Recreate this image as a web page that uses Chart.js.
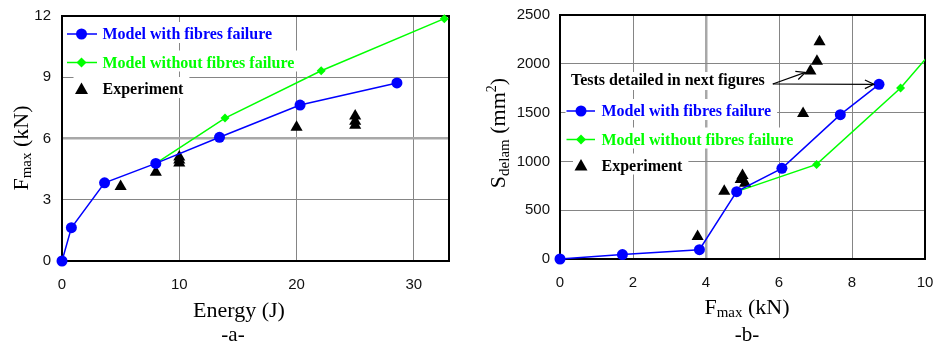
<!DOCTYPE html>
<html>
<head>
<meta charset="utf-8">
<script src="https://cdn.jsdelivr.net/npm/chart.js@4/dist/chart.umd.min.js"></script>
<style>
  html, body { margin: 0; padding: 0; background: #fff; overflow: hidden; }
  #wrap { position: relative; width: 934px; height: 343px; overflow: hidden; }
  canvas { position: absolute; top: 0; }
  #cA { left: 0; }
  #cB { left: 467px; }
</style>
</head>
<body>
<div id="wrap">
  <canvas id="cA" width="467" height="343"></canvas>
  <canvas id="cB" width="467" height="343"></canvas>
</div>
<script>
// ---------- Panel (a): Fmax vs Energy ----------
const energyWith    = [0, 0.8, 3.63, 8.0, 13.43, 20.3, 28.56];
const fmaxWith      = [0, 1.63, 3.83, 4.78, 6.06, 7.64, 8.72];
const energyWithout = [8.0, 13.9, 22.1, 32.6];
const fmaxWithout   = [4.78, 7.0, 9.32, 11.87];
const energyExp     = [5, 8, 10, 10, 10, 20, 25, 25, 25];
const fmaxExp       = [3.65, 4.35, 4.8, 4.95, 5.1, 6.55, 6.65, 6.85, 7.1];
const ticksEnergy   = [0, 10, 20, 30];
const ticksFmaxA    = [0, 3, 6, 9, 12];

// ---------- Panel (b): Sdelam vs Fmax ----------
const fmaxWithB     = [0, 1.71, 3.82, 4.84, 6.08, 7.68, 8.74];
const sdelamWith    = [0, 45, 95, 690, 929, 1479, 1790];
const fmaxWithoutB  = [4.84, 7.03, 9.33, 11.87];
const sdelamWithout = [690, 969, 1752, 2852];
const fmaxExpB      = [3.77, 4.5, 4.95, 5.0, 5.07, 6.66, 6.86, 7.04, 7.11];
const sdelamExp     = [230, 695, 815, 855, 775, 1490, 1925, 2025, 2225];
const ticksFmaxB    = [0, 2, 4, 6, 8, 10];
const ticksSdelam   = [0, 500, 1000, 1500, 2000, 2500];
const arrowTargetF  = [6.72, 8.6];
const arrowTargetS  = [1912, 1790];

const labelWith = 'Model with fibres failure';
const labelWithout = 'Model without fibres failure';
const labelExp = 'Experiment';
const noteText = 'Tests detailed in next figures';

const BLUE = '#0000ff', GREEN = '#00ff00', BLACK = '#000000';
const SERIF = '"Liberation Serif", "Times New Roman", serif';
const SANS = '"Liberation Sans", Arial, sans-serif';

function pts(xs, ys) { return xs.map((x, i) => ({ x: x, y: ys[i] })); }

function richText(ctx, parts, x, y, rot) {
  ctx.save();
  ctx.translate(x, y);
  if (rot) ctx.rotate(-Math.PI / 2);
  ctx.textBaseline = 'alphabetic';
  ctx.textAlign = 'left';
  ctx.fillStyle = '#000';
  let total = 0;
  parts.forEach(p => { ctx.font = p.size + 'px ' + SERIF; p.w = ctx.measureText(p.t).width; total += p.w; });
  let cx = -total / 2;
  parts.forEach(p => { ctx.font = p.size + 'px ' + SERIF; ctx.fillText(p.t, cx, p.dy || 0); cx += p.w; });
  ctx.restore();
}

function drawMarker(ctx, kind, x, y) {
  ctx.save();
  ctx.fillStyle = kind === 'circle' ? BLUE : (kind === 'diamond' ? GREEN : BLACK);
  ctx.beginPath();
  if (kind === 'circle') {
    ctx.arc(x, y, 5.5, 0, Math.PI * 2);
  } else if (kind === 'diamond') {
    const r = 5;
    ctx.moveTo(x, y - r); ctx.lineTo(x + r, y); ctx.lineTo(x, y + r); ctx.lineTo(x - r, y);
  } else {
    ctx.moveTo(x, y - 6.5); ctx.lineTo(x + 6.5, y + 5); ctx.lineTo(x - 6.5, y + 5);
  }
  ctx.closePath();
  ctx.fill();
  ctx.restore();
}

// In-plot legend with white boxes behind each entry
function legendPlugin(cfg) {
  return {
    id: 'customLegend',
    beforeDatasetsDraw(chart) {
      const ctx = chart.ctx, a = chart.chartArea;
      const rows = [
        { kind: 'circle', color: BLUE, text: labelWith, line: true },
        { kind: 'diamond', color: GREEN, text: labelWithout, line: true },
        { kind: 'triangle', color: BLACK, text: labelExp, line: false }
      ];
      ctx.save();
      ctx.font = 'bold 16px ' + SERIF;
      rows.forEach((r, i) => {
        const y = a.top + cfg.rowY[i];
        const tx = a.left + cfg.textX;
        const w = ctx.measureText(r.text).width;
        ctx.fillStyle = '#fff';
        const bx = r.line ? a.left + cfg.lineX0 - 1 : a.left + cfg.markX - 8;
        ctx.fillRect(bx, y - 12, tx + w + 6 - bx, 21);
        if (r.line) {
          ctx.strokeStyle = r.color; ctx.lineWidth = 1.5;
          ctx.beginPath();
          ctx.moveTo(a.left + cfg.lineX0, y); ctx.lineTo(a.left + cfg.lineX1, y);
          ctx.stroke();
        }
        drawMarker(ctx, r.kind, a.left + cfg.markX, y);
        ctx.fillStyle = r.color;
        ctx.textBaseline = 'middle';
        ctx.textAlign = 'left';
        ctx.fillText(r.text, tx, y + 1);
      });
      // frame (top & right edges as well)
      ctx.strokeStyle = '#000'; ctx.lineWidth = 2;
      ctx.strokeRect(a.left, a.top, a.right - a.left, a.bottom - a.top);
      ctx.restore();
    }
  };
}

function titlesPlugin(draw) {
  return { id: 'titles', afterDraw(chart) { draw(chart.ctx, chart); } };
}

function scaleCfg(min, max, ticks, size, pad, thick, isX) {
  return {
    type: 'linear', min: min, max: max,
    afterBuildTicks: s => { s.ticks = ticks.map(v => ({ value: v })); },
    afterFit: s => {
      if (isX) { s.height = size; s.paddingLeft = 0; s.paddingRight = 0; }
      else { s.width = size; s.paddingTop = 0; s.paddingBottom = 0; }
    },
    grid: {
      drawTicks: false,
      color: c => (c.tick && c.tick.value === thick) ? '#a8a8a8' : '#858585',
      lineWidth: c => (c.tick && c.tick.value === thick) ? 2.5 : 1
    },
    border: { display: true, color: '#000', width: 2 },
    ticks: { font: { family: SANS, size: 15 }, color: '#111', padding: pad, maxRotation: 0, autoSkip: false,
             callback: v => String(v) }
  };
}

// ---------- Chart A ----------
new Chart(document.getElementById('cA'), {
  type: 'scatter',
  data: {
    datasets: [
      { label: labelWith, data: pts(energyWith, fmaxWith), showLine: true, borderColor: BLUE, backgroundColor: BLUE,
        borderWidth: 1.5, pointRadius: 5.5, pointBorderWidth: 0, pointStyle: 'circle', clip: false },
      { label: labelExp, data: pts(energyExp, fmaxExp), showLine: false, borderColor: BLACK, backgroundColor: BLACK,
        pointRadius: 7, pointBorderWidth: 0, pointStyle: 'triangle', clip: false },
      { label: labelWithout, data: pts(energyWithout, fmaxWithout), showLine: true, borderColor: GREEN, backgroundColor: GREEN,
        borderWidth: 1.5, pointRadius: 4.5, pointBorderWidth: 0, pointStyle: 'rectRot', clip: false }
    ]
  },
  options: {
    responsive: false, animation: false, devicePixelRatio: 1,
    layout: { padding: { top: 16, right: 18, left: 0, bottom: 0 } },
    plugins: { legend: { display: false }, tooltip: { enabled: false } },
    scales: {
      x: scaleCfg(0, 33, ticksEnergy, 82, 15, -1, true),
      y: scaleCfg(0, 12, ticksFmaxA, 62, 11, 6, false)
    }
  },
  plugins: [
    legendPlugin({ rowY: [18, 46.5, 73], lineX0: 5, lineX1: 35, markX: 19.5, textX: 40.5 }),
    titlesPlugin((ctx, chart) => {
      richText(ctx, [{ t: 'Energy (J)', size: 22 }], 239, 317, false);
      richText(ctx, [{ t: '-a-', size: 21 }], 233, 341, false);
      richText(ctx, [{ t: 'F', size: 22 }, { t: 'max', size: 15, dy: 3 }, { t: ' (kN)', size: 22 }], 28, 148, true);
    })
  ]
});

// ---------- Chart B ----------
new Chart(document.getElementById('cB'), {
  type: 'scatter',
  data: {
    datasets: [
      { label: labelWith, data: pts(fmaxWithB, sdelamWith), showLine: true, borderColor: BLUE, backgroundColor: BLUE,
        borderWidth: 1.5, pointRadius: 5.5, pointBorderWidth: 0, pointStyle: 'circle', clip: false },
      { label: labelExp, data: pts(fmaxExpB, sdelamExp), showLine: false, borderColor: BLACK, backgroundColor: BLACK,
        pointRadius: 7, pointBorderWidth: 0, pointStyle: 'triangle', clip: false },
      { label: labelWithout, data: pts(fmaxWithoutB, sdelamWithout), showLine: true, borderColor: GREEN, backgroundColor: GREEN,
        borderWidth: 1.5, pointRadius: 4.5, pointBorderWidth: 0, pointStyle: 'rectRot' }
    ]
  },
  options: {
    responsive: false, animation: false, devicePixelRatio: 1,
    layout: { padding: { top: 15, right: 9, left: 0, bottom: 0 } },
    plugins: { legend: { display: false }, tooltip: { enabled: false } },
    scales: {
      x: scaleCfg(0, 10, ticksFmaxB, 84, 15, 4, true),
      y: scaleCfg(0, 2500, ticksSdelam, 93, 10, -1, false)
    }
  },
  plugins: [
    legendPlugin({ rowY: [96, 124.5, 150.5], lineX0: 6.5, lineX1: 35, markX: 21, textX: 41.5 }),
    {
      id: 'note',
      afterDatasetsDraw(chart) {
        const ctx = chart.ctx, a = chart.chartArea, xs = chart.scales.x, ys = chart.scales.y;
        ctx.save();
        ctx.font = 'bold 16px ' + SERIF;
        const tx = a.left + 11, ty = a.top + 66;
        const w = ctx.measureText(noteText).width;
        ctx.fillStyle = '#fff';
        ctx.fillRect(tx - 3, ty - 9, w + 6, 18);
        ctx.fillStyle = '#000';
        ctx.textBaseline = 'middle'; ctx.textAlign = 'left';
        ctx.fillText(noteText, tx, ty);
        const sx = tx + w + 8, sy = ty + 3;
        ctx.strokeStyle = '#000'; ctx.lineWidth = 1.2;
        arrowTargetF.forEach((f, i) => {
          const ex = xs.getPixelForValue(f), ey = ys.getPixelForValue(arrowTargetS[i]);
          ctx.beginPath(); ctx.moveTo(sx, sy); ctx.lineTo(ex, ey); ctx.stroke();
          const ang = Math.atan2(ey - sy, ex - sx), L = 10;
          ctx.beginPath();
          ctx.moveTo(ex - L * Math.cos(ang - 0.45), ey - L * Math.sin(ang - 0.45));
          ctx.lineTo(ex, ey);
          ctx.lineTo(ex - L * Math.cos(ang + 0.45), ey - L * Math.sin(ang + 0.45));
          ctx.stroke();
        });
        ctx.restore();
      }
    },
    titlesPlugin((ctx, chart) => {
      richText(ctx, [{ t: 'F', size: 22 }, { t: 'max', size: 15, dy: 3 }, { t: ' (kN)', size: 22 }], 280, 314, false);
      richText(ctx, [{ t: '-b-', size: 21 }], 280, 341, false);
      richText(ctx, [{ t: 'S', size: 22 }, { t: 'delam', size: 15, dy: 4 }, { t: ' (mm', size: 22 }, { t: '2', size: 14, dy: -9 }, { t: ')', size: 22 }], 38, 133, true);
    })
  ]
});
</script>
</body>
</html>
